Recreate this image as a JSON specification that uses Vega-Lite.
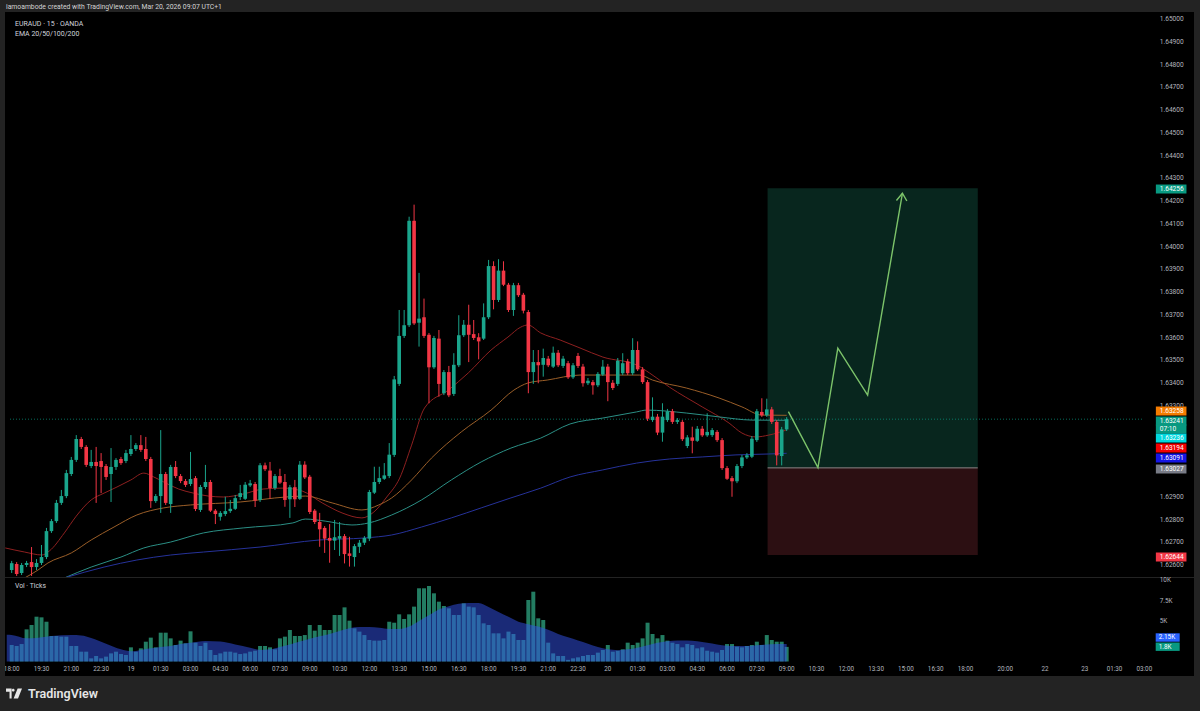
{
"$schema": "https://vega.github.io/schema/vega-lite/v6.json",
"background": "#232323",
"padding": {"left": 5, "right": 6, "top": 0, "bottom": 0},
"spacing": 1,
"bounds": "flush",
"config": {"font": "Roboto", "view": {"stroke": null}},
"resolve": {"scale": {"fill": "independent", "stroke": "independent", "color": "independent"}},
"datasets": {
"candles": [
{"i":0,"o":1.62578,"h":1.62618,"l":1.62565,"c":1.62608,"v":2030},
{"i":1,"o":1.62604,"h":1.62613,"l":1.62552,"c":1.62560,"v":1910},
{"i":2,"o":1.62565,"h":1.62609,"l":1.62556,"c":1.62600,"v":2150},
{"i":3,"o":1.62600,"h":1.62618,"l":1.62591,"c":1.62609,"v":3960},
{"i":4,"o":1.62613,"h":1.62679,"l":1.62552,"c":1.62591,"v":4500},
{"i":5,"o":1.62591,"h":1.62626,"l":1.62578,"c":1.62609,"v":5520},
{"i":6,"o":1.62609,"h":1.62688,"l":1.62600,"c":1.62635,"v":5440},
{"i":7,"o":1.62635,"h":1.62763,"l":1.62626,"c":1.62749,"v":4900},
{"i":8,"o":1.62749,"h":1.62802,"l":1.62741,"c":1.62793,"v":3140},
{"i":9,"o":1.62793,"h":1.62886,"l":1.62785,"c":1.62873,"v":3140},
{"i":10,"o":1.62873,"h":1.62930,"l":1.62864,"c":1.62903,"v":3060},
{"i":11,"o":1.62903,"h":1.63018,"l":1.62894,"c":1.63004,"v":3060},
{"i":12,"o":1.63000,"h":1.63075,"l":1.62991,"c":1.63062,"v":1910},
{"i":13,"o":1.63062,"h":1.63171,"l":1.63053,"c":1.63154,"v":1910},
{"i":14,"o":1.63154,"h":1.63163,"l":1.63110,"c":1.63119,"v":1210},
{"i":15,"o":1.63119,"h":1.63127,"l":1.63031,"c":1.63040,"v":1210},
{"i":16,"o":1.63035,"h":1.63106,"l":1.63026,"c":1.63053,"v":390},
{"i":17,"o":1.63053,"h":1.63119,"l":1.62873,"c":1.63035,"v":680},
{"i":18,"o":1.63057,"h":1.63092,"l":1.62916,"c":1.63031,"v":390},
{"i":19,"o":1.63035,"h":1.63044,"l":1.62974,"c":1.62987,"v":600},
{"i":20,"o":1.63000,"h":1.63114,"l":1.62877,"c":1.63031,"v":1000},
{"i":21,"o":1.63031,"h":1.63070,"l":1.63018,"c":1.63062,"v":1210},
{"i":22,"o":1.63066,"h":1.63075,"l":1.63040,"c":1.63048,"v":920},
{"i":23,"o":1.63057,"h":1.63106,"l":1.63048,"c":1.63092,"v":800},
{"i":24,"o":1.63088,"h":1.63171,"l":1.63079,"c":1.63110,"v":1745},
{"i":25,"o":1.63110,"h":1.63136,"l":1.63101,"c":1.63127,"v":1210},
{"i":26,"o":1.63127,"h":1.63171,"l":1.63097,"c":1.63106,"v":1620},
{"i":27,"o":1.63110,"h":1.63163,"l":1.63057,"c":1.63066,"v":2440},
{"i":28,"o":1.63066,"h":1.63075,"l":1.62851,"c":1.62881,"v":2940},
{"i":29,"o":1.62881,"h":1.62912,"l":1.62873,"c":1.62903,"v":1745},
{"i":30,"o":1.62903,"h":1.63193,"l":1.62829,"c":1.63000,"v":3550},
{"i":31,"o":1.63000,"h":1.63009,"l":1.62864,"c":1.62873,"v":3550},
{"i":32,"o":1.62868,"h":1.63040,"l":1.62829,"c":1.63031,"v":2850},
{"i":33,"o":1.63031,"h":1.63057,"l":1.62982,"c":1.62991,"v":2030},
{"i":34,"o":1.62991,"h":1.63000,"l":1.62960,"c":1.62969,"v":2570},
{"i":35,"o":1.62969,"h":1.62978,"l":1.62943,"c":1.62952,"v":2240},
{"i":36,"o":1.62956,"h":1.63097,"l":1.62947,"c":1.62978,"v":3720},
{"i":37,"o":1.62982,"h":1.62991,"l":1.62837,"c":1.62846,"v":2320},
{"i":38,"o":1.62842,"h":1.62952,"l":1.62833,"c":1.62943,"v":1910},
{"i":39,"o":1.62943,"h":1.63040,"l":1.62934,"c":1.62965,"v":2320},
{"i":40,"o":1.62965,"h":1.62974,"l":1.62833,"c":1.62839,"v":1420},
{"i":41,"o":1.62839,"h":1.62846,"l":1.62780,"c":1.62824,"v":800},
{"i":42,"o":1.62812,"h":1.62837,"l":1.62795,"c":1.62829,"v":1000},
{"i":43,"o":1.62824,"h":1.62900,"l":1.62815,"c":1.62837,"v":1210},
{"i":44,"o":1.62837,"h":1.62886,"l":1.62829,"c":1.62847,"v":1210},
{"i":45,"o":1.62847,"h":1.62908,"l":1.62842,"c":1.62894,"v":1090},
{"i":46,"o":1.62899,"h":1.62952,"l":1.62886,"c":1.62916,"v":920},
{"i":47,"o":1.62891,"h":1.62965,"l":1.62886,"c":1.62953,"v":1000},
{"i":48,"o":1.62950,"h":1.62974,"l":1.62943,"c":1.62959,"v":1210},
{"i":49,"o":1.62956,"h":1.62965,"l":1.62855,"c":1.62883,"v":1330},
{"i":50,"o":1.62886,"h":1.63048,"l":1.62877,"c":1.63038,"v":1910},
{"i":51,"o":1.63038,"h":1.63050,"l":1.63013,"c":1.63021,"v":1910},
{"i":52,"o":1.63015,"h":1.63053,"l":1.62891,"c":1.62938,"v":1745},
{"i":53,"o":1.62938,"h":1.63000,"l":1.62930,"c":1.62991,"v":1500},
{"i":54,"o":1.62991,"h":1.63023,"l":1.62956,"c":1.62962,"v":2850},
{"i":55,"o":1.62965,"h":1.63000,"l":1.62856,"c":1.62886,"v":3060},
{"i":56,"o":1.62889,"h":1.62952,"l":1.62807,"c":1.62942,"v":3880},
{"i":57,"o":1.62942,"h":1.62974,"l":1.62855,"c":1.62889,"v":3140},
{"i":58,"o":1.62891,"h":1.63057,"l":1.62886,"c":1.63041,"v":3140},
{"i":59,"o":1.63041,"h":1.63056,"l":1.62978,"c":1.62985,"v":3260},
{"i":60,"o":1.62988,"h":1.62996,"l":1.62824,"c":1.62833,"v":4500},
{"i":61,"o":1.62839,"h":1.62846,"l":1.62780,"c":1.62789,"v":3800},
{"i":62,"o":1.62789,"h":1.62829,"l":1.62680,"c":1.62757,"v":4500},
{"i":63,"o":1.62763,"h":1.62771,"l":1.62653,"c":1.62716,"v":3880},
{"i":64,"o":1.62719,"h":1.62780,"l":1.62610,"c":1.62707,"v":3880},
{"i":65,"o":1.62707,"h":1.62798,"l":1.62666,"c":1.62722,"v":5730},
{"i":66,"o":1.62716,"h":1.62789,"l":1.62640,"c":1.62727,"v":5730},
{"i":67,"o":1.62727,"h":1.62736,"l":1.62607,"c":1.62648,"v":6670},
{"i":68,"o":1.62651,"h":1.62724,"l":1.62593,"c":1.62640,"v":5030},
{"i":69,"o":1.62635,"h":1.62692,"l":1.62593,"c":1.62683,"v":4090},
{"i":70,"o":1.62680,"h":1.62710,"l":1.62653,"c":1.62698,"v":3680},
{"i":71,"o":1.62698,"h":1.62727,"l":1.62688,"c":1.62719,"v":3260},
{"i":72,"o":1.62716,"h":1.62930,"l":1.62705,"c":1.62921,"v":2650},
{"i":73,"o":1.62918,"h":1.63032,"l":1.62912,"c":1.62965,"v":2570},
{"i":74,"o":1.62965,"h":1.63032,"l":1.62956,"c":1.62982,"v":2570},
{"i":75,"o":1.62979,"h":1.63048,"l":1.62974,"c":1.62994,"v":2650},
{"i":76,"o":1.62991,"h":1.63136,"l":1.62982,"c":1.63085,"v":4900},
{"i":77,"o":1.63084,"h":1.63431,"l":1.63075,"c":1.63416,"v":4780},
{"i":78,"o":1.63396,"h":1.63721,"l":1.63387,"c":1.63607,"v":5810},
{"i":79,"o":1.63607,"h":1.63721,"l":1.63598,"c":1.63654,"v":5240},
{"i":80,"o":1.63654,"h":1.64131,"l":1.63646,"c":1.64113,"v":5810},
{"i":81,"o":1.64113,"h":1.64184,"l":1.63655,"c":1.63662,"v":6760},
{"i":82,"o":1.63665,"h":1.63884,"l":1.63560,"c":1.63683,"v":9020},
{"i":83,"o":1.63689,"h":1.63771,"l":1.63598,"c":1.63607,"v":9020},
{"i":84,"o":1.63612,"h":1.63620,"l":1.63311,"c":1.63469,"v":9300},
{"i":85,"o":1.63469,"h":1.63607,"l":1.63462,"c":1.63598,"v":8400},
{"i":86,"o":1.63595,"h":1.63633,"l":1.63340,"c":1.63396,"v":7370},
{"i":87,"o":1.63355,"h":1.63457,"l":1.63347,"c":1.63448,"v":6840},
{"i":88,"o":1.63448,"h":1.63475,"l":1.63338,"c":1.63346,"v":6550},
{"i":89,"o":1.63352,"h":1.63531,"l":1.63343,"c":1.63480,"v":5730},
{"i":90,"o":1.63478,"h":1.63698,"l":1.63470,"c":1.63610,"v":5730},
{"i":91,"o":1.63610,"h":1.63677,"l":1.63602,"c":1.63656,"v":7170},
{"i":92,"o":1.63656,"h":1.63744,"l":1.63492,"c":1.63612,"v":6760},
{"i":93,"o":1.63615,"h":1.63677,"l":1.63589,"c":1.63598,"v":6670},
{"i":94,"o":1.63601,"h":1.63619,"l":1.63504,"c":1.63583,"v":5730},
{"i":95,"o":1.63595,"h":1.63750,"l":1.63589,"c":1.63689,"v":4700},
{"i":96,"o":1.63689,"h":1.63941,"l":1.63681,"c":1.63914,"v":4500},
{"i":97,"o":1.63914,"h":1.63935,"l":1.63724,"c":1.63765,"v":3470},
{"i":98,"o":1.63765,"h":1.63944,"l":1.63756,"c":1.63894,"v":3470},
{"i":99,"o":1.63894,"h":1.63935,"l":1.63826,"c":1.63832,"v":2850},
{"i":100,"o":1.63832,"h":1.63840,"l":1.63712,"c":1.63721,"v":3680},
{"i":101,"o":1.63721,"h":1.63840,"l":1.63695,"c":1.63830,"v":3390},
{"i":102,"o":1.63830,"h":1.63840,"l":1.63778,"c":1.63786,"v":2650},
{"i":103,"o":1.63788,"h":1.63796,"l":1.63706,"c":1.63718,"v":2650},
{"i":104,"o":1.63712,"h":1.63721,"l":1.63355,"c":1.63448,"v":7580},
{"i":105,"o":1.63448,"h":1.63545,"l":1.63396,"c":1.63492,"v":8600},
{"i":106,"o":1.63492,"h":1.63545,"l":1.63399,"c":1.63478,"v":5320},
{"i":107,"o":1.63480,"h":1.63551,"l":1.63428,"c":1.63510,"v":5110},
{"i":108,"o":1.63507,"h":1.63519,"l":1.63470,"c":1.63478,"v":2320},
{"i":109,"o":1.63472,"h":1.63560,"l":1.63466,"c":1.63533,"v":1000},
{"i":110,"o":1.63533,"h":1.63545,"l":1.63470,"c":1.63478,"v":680},
{"i":111,"o":1.63475,"h":1.63519,"l":1.63466,"c":1.63507,"v":680},
{"i":112,"o":1.63487,"h":1.63497,"l":1.63418,"c":1.63425,"v":200},
{"i":113,"o":1.63425,"h":1.63488,"l":1.63418,"c":1.63478,"v":390},
{"i":114,"o":1.63519,"h":1.63532,"l":1.63466,"c":1.63475,"v":510},
{"i":115,"o":1.63472,"h":1.63484,"l":1.63384,"c":1.63399,"v":680},
{"i":116,"o":1.63399,"h":1.63422,"l":1.63391,"c":1.63410,"v":800},
{"i":117,"o":1.63404,"h":1.63413,"l":1.63349,"c":1.63390,"v":800},
{"i":118,"o":1.63390,"h":1.63448,"l":1.63382,"c":1.63440,"v":1090},
{"i":119,"o":1.63437,"h":1.63501,"l":1.63431,"c":1.63472,"v":1420},
{"i":120,"o":1.63472,"h":1.63484,"l":1.63320,"c":1.63404,"v":2030},
{"i":121,"o":1.63401,"h":1.63413,"l":1.63369,"c":1.63378,"v":1210},
{"i":122,"o":1.63396,"h":1.63510,"l":1.63387,"c":1.63498,"v":1330},
{"i":123,"o":1.63443,"h":1.63531,"l":1.63435,"c":1.63487,"v":1500},
{"i":124,"o":1.63495,"h":1.63506,"l":1.63435,"c":1.63443,"v":2320},
{"i":125,"o":1.63443,"h":1.63597,"l":1.63435,"c":1.63545,"v":2030},
{"i":126,"o":1.63545,"h":1.63583,"l":1.63453,"c":1.63460,"v":2320},
{"i":127,"o":1.63460,"h":1.63470,"l":1.63396,"c":1.63404,"v":2850},
{"i":128,"o":1.63404,"h":1.63413,"l":1.63233,"c":1.63243,"v":4780},
{"i":129,"o":1.63237,"h":1.63337,"l":1.63229,"c":1.63252,"v":3390},
{"i":130,"o":1.63252,"h":1.63264,"l":1.63171,"c":1.63182,"v":2850},
{"i":131,"o":1.63182,"h":1.63311,"l":1.63142,"c":1.63252,"v":3260},
{"i":132,"o":1.63237,"h":1.63286,"l":1.63229,"c":1.63276,"v":2570},
{"i":133,"o":1.63276,"h":1.63286,"l":1.63220,"c":1.63229,"v":2320},
{"i":134,"o":1.63229,"h":1.63246,"l":1.63220,"c":1.63237,"v":2150},
{"i":135,"o":1.63229,"h":1.63237,"l":1.63145,"c":1.63153,"v":1745},
{"i":136,"o":1.63123,"h":1.63171,"l":1.63114,"c":1.63161,"v":2150},
{"i":137,"o":1.63161,"h":1.63208,"l":1.63091,"c":1.63146,"v":2030},
{"i":138,"o":1.63146,"h":1.63211,"l":1.63141,"c":1.63199,"v":1620},
{"i":139,"o":1.63199,"h":1.63211,"l":1.63163,"c":1.63170,"v":1745},
{"i":140,"o":1.63170,"h":1.63267,"l":1.63163,"c":1.63185,"v":1330},
{"i":141,"o":1.63171,"h":1.63202,"l":1.63163,"c":1.63193,"v":1210},
{"i":142,"o":1.63185,"h":1.63193,"l":1.63141,"c":1.63149,"v":1090},
{"i":143,"o":1.63149,"h":1.63158,"l":1.63018,"c":1.63026,"v":1420},
{"i":144,"o":1.63026,"h":1.63035,"l":1.62974,"c":1.62979,"v":2150},
{"i":145,"o":1.62982,"h":1.62991,"l":1.62900,"c":1.62968,"v":2150},
{"i":146,"o":1.62968,"h":1.63044,"l":1.62960,"c":1.63035,"v":1830},
{"i":147,"o":1.63035,"h":1.63084,"l":1.63026,"c":1.63073,"v":1745},
{"i":148,"o":1.63073,"h":1.63092,"l":1.63066,"c":1.63082,"v":1910},
{"i":149,"o":1.63076,"h":1.63167,"l":1.63070,"c":1.63155,"v":2030},
{"i":150,"o":1.63149,"h":1.63286,"l":1.63141,"c":1.63276,"v":2440},
{"i":151,"o":1.63273,"h":1.63333,"l":1.63251,"c":1.63258,"v":2030},
{"i":152,"o":1.63258,"h":1.63331,"l":1.63251,"c":1.63284,"v":3260},
{"i":153,"o":1.63284,"h":1.63295,"l":1.63220,"c":1.63229,"v":2650},
{"i":154,"o":1.63229,"h":1.63237,"l":1.63038,"c":1.63082,"v":2440},
{"i":155,"o":1.63079,"h":1.63207,"l":1.63038,"c":1.63196,"v":2440},
{"i":156,"o":1.63196,"h":1.63250,"l":1.63189,"c":1.63241,"v":1800}
],
"ema": [
{"ema":"EMA20","i":-1.3,"p":1.62675},{"ema":"EMA20","i":2.6,"p":1.62657},{"ema":"EMA20","i":6.1,"p":1.62644},{"ema":"EMA20","i":7.6,"p":1.62662},{"ema":"EMA20","i":10.6,"p":1.62741},{"ema":"EMA20","i":13.0,"p":1.62815},{"ema":"EMA20","i":16.0,"p":1.62886},{"ema":"EMA20","i":18.6,"p":1.62916},{"ema":"EMA20","i":21.2,"p":1.62943},{"ema":"EMA20","i":24.0,"p":1.62974},{"ema":"EMA20","i":26.6,"p":1.63004},{"ema":"EMA20","i":28.6,"p":1.62987},{"ema":"EMA20","i":30.6,"p":1.62965},{"ema":"EMA20","i":33.6,"p":1.62934},{"ema":"EMA20","i":36.6,"p":1.62916},{"ema":"EMA20","i":39.6,"p":1.62903},{"ema":"EMA20","i":42.6,"p":1.62899},{"ema":"EMA20","i":46.6,"p":1.62912},{"ema":"EMA20","i":50.6,"p":1.62934},{"ema":"EMA20","i":54.6,"p":1.62938},{"ema":"EMA20","i":58.5,"p":1.62925},{"ema":"EMA20","i":62.5,"p":1.62873},{"ema":"EMA20","i":66.5,"p":1.62829},{"ema":"EMA20","i":70.5,"p":1.62807},{"ema":"EMA20","i":72.9,"p":1.62833},{"ema":"EMA20","i":75.5,"p":1.62899},{"ema":"EMA20","i":78.1,"p":1.62982},{"ema":"EMA20","i":80.5,"p":1.63127},{"ema":"EMA20","i":83.1,"p":1.63290},{"ema":"EMA20","i":87.9,"p":1.63369},{"ema":"EMA20","i":91.9,"p":1.63444},{"ema":"EMA20","i":96.5,"p":1.63545},{"ema":"EMA20","i":99.9,"p":1.63602},{"ema":"EMA20","i":102.5,"p":1.63646},{"ema":"EMA20","i":103.9,"p":1.63655},{"ema":"EMA20","i":106.5,"p":1.63620},{"ema":"EMA20","i":110.4,"p":1.63589},{"ema":"EMA20","i":114.4,"p":1.63554},{"ema":"EMA20","i":119.0,"p":1.63514},{"ema":"EMA20","i":125.8,"p":1.63479},{"ema":"EMA20","i":128.4,"p":1.63444},{"ema":"EMA20","i":132.4,"p":1.63382},{"ema":"EMA20","i":139.0,"p":1.63295},{"ema":"EMA20","i":144.4,"p":1.63224},{"ema":"EMA20","i":147.0,"p":1.63180},{"ema":"EMA20","i":149.8,"p":1.63163},{"ema":"EMA20","i":152.4,"p":1.63171},{"ema":"EMA20","i":156,"p":1.63194},
{"ema":"EMA50","i":2.6,"p":1.62543},{"ema":"EMA50","i":5.3,"p":1.62578},{"ema":"EMA50","i":7.3,"p":1.62609},{"ema":"EMA50","i":12.0,"p":1.62653},{"ema":"EMA50","i":16.0,"p":1.62710},{"ema":"EMA50","i":20.6,"p":1.62767},{"ema":"EMA50","i":25.2,"p":1.62820},{"ema":"EMA50","i":30.6,"p":1.62851},{"ema":"EMA50","i":36.0,"p":1.62864},{"ema":"EMA50","i":46.0,"p":1.62877},{"ema":"EMA50","i":55.2,"p":1.62899},{"ema":"EMA50","i":59.1,"p":1.62903},{"ema":"EMA50","i":64.5,"p":1.62873},{"ema":"EMA50","i":70.5,"p":1.62842},{"ema":"EMA50","i":73.9,"p":1.62864},{"ema":"EMA50","i":76.5,"p":1.62895},{"ema":"EMA50","i":80.5,"p":1.62974},{"ema":"EMA50","i":84.5,"p":1.63070},{"ema":"EMA50","i":90.5,"p":1.63185},{"ema":"EMA50","i":96.5,"p":1.63281},{"ema":"EMA50","i":101.1,"p":1.63369},{"ema":"EMA50","i":103.9,"p":1.63400},{"ema":"EMA50","i":107.8,"p":1.63413},{"ema":"EMA50","i":114.4,"p":1.63435},{"ema":"EMA50","i":126.4,"p":1.63435},{"ema":"EMA50","i":129.0,"p":1.63413},{"ema":"EMA50","i":135.8,"p":1.63378},{"ema":"EMA50","i":142.4,"p":1.63334},{"ema":"EMA50","i":147.0,"p":1.63295},{"ema":"EMA50","i":151.0,"p":1.63259},{"ema":"EMA50","i":156,"p":1.63258},
{"ema":"EMA100","i":10.6,"p":1.62543},{"ema":"EMA100","i":16.0,"p":1.62591},{"ema":"EMA100","i":22.0,"p":1.62635},{"ema":"EMA100","i":26.6,"p":1.62675},{"ema":"EMA100","i":32.0,"p":1.62701},{"ema":"EMA100","i":38.6,"p":1.62741},{"ema":"EMA100","i":46.6,"p":1.62763},{"ema":"EMA100","i":56.6,"p":1.62785},{"ema":"EMA100","i":59.1,"p":1.62802},{"ema":"EMA100","i":63.1,"p":1.62793},{"ema":"EMA100","i":68.5,"p":1.62776},{"ema":"EMA100","i":71.9,"p":1.62785},{"ema":"EMA100","i":76.5,"p":1.62820},{"ema":"EMA100","i":82.5,"p":1.62886},{"ema":"EMA100","i":88.5,"p":1.62974},{"ema":"EMA100","i":94.5,"p":1.63053},{"ema":"EMA100","i":100.5,"p":1.63114},{"ema":"EMA100","i":106.5,"p":1.63158},{"ema":"EMA100","i":112.4,"p":1.63220},{"ema":"EMA100","i":119.0,"p":1.63246},{"ema":"EMA100","i":125.8,"p":1.63273},{"ema":"EMA100","i":127.8,"p":1.63281},{"ema":"EMA100","i":135.8,"p":1.63268},{"ema":"EMA100","i":142.4,"p":1.63251},{"ema":"EMA100","i":149.0,"p":1.63237},{"ema":"EMA100","i":156,"p":1.63236},
{"ema":"EMA200","i":10.6,"p":1.62543},{"ema":"EMA200","i":18.6,"p":1.62591},{"ema":"EMA200","i":25.2,"p":1.62622},{"ema":"EMA200","i":32.0,"p":1.62644},{"ema":"EMA200","i":38.6,"p":1.62657},{"ema":"EMA200","i":50.0,"p":1.62679},{"ema":"EMA200","i":61.9,"p":1.62710},{"ema":"EMA200","i":71.1,"p":1.62719},{"ema":"EMA200","i":76.5,"p":1.62732},{"ema":"EMA200","i":82.5,"p":1.62767},{"ema":"EMA200","i":88.5,"p":1.62807},{"ema":"EMA200","i":94.5,"p":1.62851},{"ema":"EMA200","i":100.5,"p":1.62895},{"ema":"EMA200","i":106.5,"p":1.62938},{"ema":"EMA200","i":112.4,"p":1.62987},{"ema":"EMA200","i":119.0,"p":1.63018},{"ema":"EMA200","i":125.8,"p":1.63048},{"ema":"EMA200","i":132.4,"p":1.63066},{"ema":"EMA200","i":139.0,"p":1.63075},{"ema":"EMA200","i":145.8,"p":1.63084},{"ema":"EMA200","i":152.4,"p":1.63088},{"ema":"EMA200","i":156,"p":1.63091}
],
"ma": [
{"i":-1,"ma":3300},{"i":0,"ma":3260},{"i":3,"ma":2850},{"i":5,"ma":2900},{"i":8,"ma":3150},{"i":12,"ma":3250},{"i":14,"ma":3200},{"i":16,"ma":2900},{"i":19,"ma":2200},{"i":22,"ma":1500},{"i":24,"ma":1250},{"i":26,"ma":1420},{"i":28,"ma":1620},{"i":30,"ma":1800},{"i":32,"ma":1910},{"i":34,"ma":2150},{"i":36,"ma":2300},{"i":39,"ma":2520},{"i":42,"ma":2450},{"i":45,"ma":2100},{"i":48,"ma":1700},{"i":50,"ma":1420},{"i":52,"ma":1500},{"i":54,"ma":1800},{"i":56,"ma":2100},{"i":58,"ma":2450},{"i":60,"ma":2800},{"i":62,"ma":3100},{"i":64,"ma":3400},{"i":66,"ma":3750},{"i":68,"ma":4100},{"i":70,"ma":4250},{"i":72,"ma":4250},{"i":74,"ma":4150},{"i":76,"ma":4000},{"i":78,"ma":4000},{"i":80,"ma":4300},{"i":82,"ma":5000},{"i":84,"ma":5700},{"i":86,"ma":6400},{"i":88,"ma":6800},{"i":90,"ma":7100},{"i":92,"ma":7200},{"i":94,"ma":7200},{"i":96,"ma":6700},{"i":98,"ma":6100},{"i":100,"ma":5500},{"i":102,"ma":4900},{"i":104,"ma":4600},{"i":106,"ma":4300},{"i":108,"ma":3900},{"i":110,"ma":3400},{"i":112,"ma":3000},{"i":114,"ma":2600},{"i":116,"ma":2200},{"i":118,"ma":1800},{"i":120,"ma":1500},{"i":122,"ma":1400},{"i":124,"ma":1500},{"i":126,"ma":1700},{"i":128,"ma":2000},{"i":130,"ma":2300},{"i":132,"ma":2500},{"i":134,"ma":2600},{"i":136,"ma":2600},{"i":138,"ma":2500},{"i":140,"ma":2300},{"i":142,"ma":2100},{"i":144,"ma":1950},{"i":146,"ma":1900},{"i":148,"ma":1900},{"i":150,"ma":2000},{"i":152,"ma":2100},{"i":154,"ma":2150},{"i":156,"ma":2150}
],
"zones": [
{"zone":"profit","t0":152.16,"t1":194.47,"p0":1.63027,"p1":1.64256},
{"zone":"loss","t0":152.16,"t1":194.47,"p0":1.62644,"p1":1.63027}
],
"projection": [
{"path":"move","k":0,"t":156.35,"p":1.63274},{"path":"move","k":1,"t":162.3,"p":1.63028},{"path":"move","k":2,"t":166.3,"p":1.63553},{"path":"move","k":3,"t":172.3,"p":1.63347},{"path":"move","k":4,"t":179.3,"p":1.64234},
{"path":"head","k":0,"t":178.1,"p":1.64202},{"path":"head","k":1,"t":179.3,"p":1.64234},{"path":"head","k":2,"t":180.2,"p":1.64200}
],
"priceTicks": [
{"p":1.626},{"p":1.627},{"p":1.628},{"p":1.629},{"p":1.633},{"p":1.634},{"p":1.635},{"p":1.636},{"p":1.637},{"p":1.638},{"p":1.639},{"p":1.640},{"p":1.641},{"p":1.642},{"p":1.643},{"p":1.644},{"p":1.645},{"p":1.646},{"p":1.647},{"p":1.648},{"p":1.649},{"p":1.650}
],
"timeTicks": [
{"i":0,"t":"18:00"},{"i":6,"t":"19:30"},{"i":12,"t":"21:00"},{"i":18,"t":"22:30"},{"i":24,"t":"19"},{"i":30,"t":"01:30"},{"i":36,"t":"03:00"},{"i":42,"t":"04:30"},{"i":48,"t":"06:00"},{"i":54,"t":"07:30"},{"i":60,"t":"09:00"},{"i":66,"t":"10:30"},{"i":72,"t":"12:00"},{"i":78,"t":"13:30"},{"i":84,"t":"15:00"},{"i":90,"t":"16:30"},{"i":96,"t":"18:00"},{"i":102,"t":"19:30"},{"i":108,"t":"21:00"},{"i":114,"t":"22:30"},{"i":120,"t":"20"},{"i":126,"t":"01:30"},{"i":132,"t":"03:00"},{"i":138,"t":"04:30"},{"i":144,"t":"06:00"},{"i":150,"t":"07:30"},{"i":156,"t":"09:00"},{"i":162,"t":"10:30"},{"i":168,"t":"12:00"},{"i":174,"t":"13:30"},{"i":180,"t":"15:00"},{"i":186,"t":"16:30"},{"i":192,"t":"18:00"},{"i":200,"t":"20:00"},{"i":208,"t":"22"},{"i":216,"t":"23"},{"i":222,"t":"01:30"},{"i":228,"t":"03:00"}
],
"volTicks": [
{"v":5000,"t":"5K"},{"v":7500,"t":"7.5K"},{"v":10000,"t":"10K"}
],
"badges": [
{"kind":"target","label":"1.64256","level":1.642527},
{"kind":"ema50","label":"1.63258","level":1.632769},
{"kind":"last","label":"1.63241","level":1.632330},
{"kind":"last","label":"07:10","level":1.631978},
{"kind":"ema100","label":"1.63236","level":1.631582},
{"kind":"ema20","label":"1.63194","level":1.631143},
{"kind":"ema200","label":"1.63091","level":1.630703},
{"kind":"entry","label":"1.63027","level":1.630220},
{"kind":"stop","label":"1.62644","level":1.626352}
],
"vbadges": [
{"kind":"ma","label":"2.15K","level":2957},
{"kind":"vol","label":"1.8K","level":1823}
]
},
"vconcat": [
{
"width": 1189, "height": 11,
"data": {"values": [{"t": "iamoambode created with TradingView.com, Mar 20, 2026 09:07 UTC+1"}]},
"mark": {"type": "text", "align": "left", "baseline": "middle", "fontSize": 6.8, "color": "#d4d4d4"},
"encoding": {
"x": {"datum": -0.14, "type": "quantitative", "scale": {"domain": [-0.34, 236.99], "nice": false, "zero": false}, "axis": null},
"y": {"datum": 4, "type": "quantitative", "scale": {"domain": [0, 11], "nice": false, "zero": false}, "axis": null},
"text": {"field": "t"}
}
},
{
"width": 1189, "height": 565,
"view": {"fill": "#000000", "stroke": null},
"layer": [
{
"data": {"name": "zones"},
"mark": {"type": "rect"},
"encoding": {
"x": {"field": "t0", "type": "quantitative", "scale": {"domain": [-0.34, 236.99], "nice": false, "zero": false}, "axis": null},
"x2": {"field": "t1"},
"y": {"field": "p0", "type": "quantitative", "scale": {"domain": [1.625473, 1.650308], "nice": false, "zero": false}, "axis": null},
"y2": {"field": "p1"},
"color": {"condition": {"test": "datum.zone == 'profit'", "value": "#08261e"}, "value": "#2c0f12"}
}
},
{
"data": {"name": "priceTicks"},
"mark": {"type": "text", "align": "left", "baseline": "middle", "fontSize": 6.6, "color": "#b2b5be"},
"encoding": {
"x": {"datum": 231.1, "type": "quantitative", "axis": null},
"y": {"field": "p", "type": "quantitative", "axis": null},
"text": {"field": "p", "type": "quantitative", "format": ".5f"}
}
},
{
"data": {"values": [{"p": 1.63241}]},
"mark": {"type": "rule", "strokeDash": [1, 2], "strokeWidth": 1, "color": "#089981", "opacity": 0.7},
"encoding": {
"x": {"datum": -0.34, "type": "quantitative", "axis": null},
"x2": {"datum": 227.8},
"y": {"field": "p", "type": "quantitative", "axis": null}
}
},
{
"data": {"name": "ema"},
"mark": {"type": "line", "strokeWidth": 1, "interpolate": "monotone", "clip": true},
"encoding": {
"x": {"field": "i", "type": "quantitative", "axis": null},
"y": {"field": "p", "type": "quantitative", "axis": null},
"stroke": {"field": "ema", "type": "nominal", "scale": {"domain": ["EMA20", "EMA50", "EMA100", "EMA200"], "range": ["#8e2020", "#9a5e28", "#2b8f85", "#26329a"]}, "legend": null}
}
},
{
"data": {"name": "candles"},
"mark": {"type": "rule", "strokeWidth": 1},
"encoding": {
"x": {"field": "i", "type": "quantitative", "axis": null},
"y": {"field": "l", "type": "quantitative", "axis": null},
"y2": {"field": "h"},
"color": {"condition": {"test": "datum.c >= datum.o", "value": "#1aa58c"}, "value": "#f23645"}
}
},
{
"data": {"name": "candles"},
"mark": {"type": "bar", "width": 3.6},
"encoding": {
"x": {"field": "i", "type": "quantitative", "axis": null},
"y": {"field": "o", "type": "quantitative", "axis": null},
"y2": {"field": "c"},
"color": {"condition": {"test": "datum.c >= datum.o", "value": "#1aa58c"}, "value": "#f23645"}
}
},
{
"data": {"values": [{"p": 1.63027}]},
"mark": {"type": "rule", "strokeWidth": 1, "color": "#8a8a8a"},
"encoding": {
"x": {"datum": 152.16, "type": "quantitative", "axis": null},
"x2": {"datum": 194.47},
"y": {"field": "p", "type": "quantitative", "axis": null}
}
},
{
"data": {"name": "projection"},
"mark": {"type": "line", "strokeWidth": 1.4, "color": "#7cc36a"},
"encoding": {
"x": {"field": "t", "type": "quantitative", "axis": null},
"y": {"field": "p", "type": "quantitative", "axis": null},
"detail": {"field": "path"},
"order": {"field": "k"}
}
},
{
"data": {"values": [{"t": "EURAUD · 15 · OANDA"}, {"t": "EMA 20/50/100/200"}]},
"transform": [{"filter": "datum.t == 'EURAUD · 15 · OANDA'"}],
"mark": {"type": "text", "align": "left", "baseline": "middle", "fontSize": 7, "color": "#d1d4dc"},
"encoding": {
"x": {"datum": 0.66, "type": "quantitative", "axis": null},
"y": {"datum": 1.64979, "type": "quantitative", "axis": null},
"text": {"field": "t"}
}
},
{
"data": {"values": [{"t": "EURAUD · 15 · OANDA"}, {"t": "EMA 20/50/100/200"}]},
"transform": [{"filter": "datum.t == 'EMA 20/50/100/200'"}],
"mark": {"type": "text", "align": "left", "baseline": "middle", "fontSize": 7, "color": "#d1d4dc"},
"encoding": {
"x": {"datum": 0.66, "type": "quantitative", "axis": null},
"y": {"datum": 1.64935, "type": "quantitative", "axis": null},
"text": {"field": "t"}
}
},
{
"data": {"name": "badges"},
"mark": {"type": "point", "filled": true, "opacity": 1, "strokeWidth": 0, "size": 936, "shape": "M-1,-0.294L1,-0.294L1,0.294L-1,0.294Z"},
"encoding": {
"x": {"datum": 233.4, "type": "quantitative", "axis": null},
"y": {"field": "level", "type": "quantitative", "axis": null},
"fill": {"field": "kind", "type": "nominal", "scale": {"domain": ["target", "ema50", "last", "ema100", "ema20", "ema200", "entry", "stop"], "range": ["#089981", "#f57c00", "#089981", "#00d8de", "#f20000", "#1515e6", "#787b86", "#f23645"]}, "legend": null}
}
},
{
"data": {"name": "badges"},
"mark": {"type": "text", "align": "left", "baseline": "middle", "fontSize": 6.6, "color": "#ffffff"},
"encoding": {
"x": {"datum": 231.1, "type": "quantitative", "axis": null},
"y": {"field": "level", "type": "quantitative", "axis": null},
"text": {"field": "label"}
}
}
]
},
{
"width": 1189, "height": 98,
"view": {"fill": "#000000", "stroke": null},
"layer": [
{
"data": {"name": "candles"},
"mark": {"type": "bar", "width": 4, "color": "#237d62"},
"encoding": {
"x": {"field": "i", "type": "quantitative", "scale": {"domain": [-0.34, 236.99], "nice": false, "zero": false}, "axis": null},
"y": {"field": "v", "type": "quantitative", "scale": {"domain": [-1786, 10287], "nice": false, "zero": false}, "axis": null}
}
},
{
"data": {"name": "ma"},
"mark": {"type": "area", "color": "#3354ee", "opacity": 0.5, "interpolate": "monotone", "clip": true},
"encoding": {
"x": {"field": "i", "type": "quantitative", "axis": null},
"y": {"field": "ma", "type": "quantitative", "axis": null}
}
},
{
"data": {"name": "timeTicks"},
"mark": {"type": "text", "align": "center", "baseline": "middle", "fontSize": 6.3, "color": "#b2b5be", "clip": true},
"encoding": {
"x": {"field": "i", "type": "quantitative", "axis": null},
"y": {"datum": -924, "type": "quantitative", "axis": null},
"text": {"field": "t"}
}
},
{
"data": {"name": "volTicks"},
"mark": {"type": "text", "align": "left", "baseline": "middle", "fontSize": 6.4, "color": "#b2b5be"},
"encoding": {
"x": {"datum": 231.1, "type": "quantitative", "axis": null},
"y": {"field": "v", "type": "quantitative", "axis": null},
"text": {"field": "t"}
}
},
{
"data": {"values": [{"t": "Vol · Ticks"}]},
"mark": {"type": "text", "align": "left", "baseline": "middle", "fontSize": 6.8, "color": "#d1d4dc"},
"encoding": {
"x": {"datum": 0.66, "type": "quantitative", "axis": null},
"y": {"datum": 9363, "type": "quantitative", "axis": null},
"text": {"field": "t"}
}
},
{
"data": {"name": "vbadges"},
"mark": {"type": "point", "filled": true, "opacity": 1, "strokeWidth": 0, "size": 576, "shape": "M-1,-0.35L1,-0.35L1,0.35L-1,0.35Z"},
"encoding": {
"x": {"datum": 232.7, "type": "quantitative", "axis": null},
"y": {"field": "level", "type": "quantitative", "axis": null},
"color": {"condition": {"test": "datum.kind == 'ma'", "value": "#2962ff"}, "value": "#089981"}
}
},
{
"data": {"name": "vbadges"},
"mark": {"type": "text", "align": "left", "baseline": "middle", "fontSize": 6.4, "color": "#ffffff"},
"encoding": {
"x": {"datum": 230.9, "type": "quantitative", "axis": null},
"y": {"field": "level", "type": "quantitative", "axis": null},
"text": {"field": "label"}
}
}
]
},
{
"width": 1189, "height": 34,
"layer": [
{
"data": {"values": [{"name": "TradingView logo"}]},
"mark": {"type": "point", "filled": true, "opacity": 1, "strokeWidth": 0, "size": 256, "color": "#e6e6e6",
"shape": "M-1,-0.62L-0.3,-0.62L-0.3,0.62L-0.56,0.62L-0.56,-0.22L-1,-0.22Z M-0.27,-0.42A0.17,0.17 0 1 0 0.07,-0.42A0.17,0.17 0 1 0 -0.27,-0.42Z M0.45,-0.62L1,-0.62L0.5,0.62L-0.05,0.62Z"},
"encoding": {
"x": {"datum": 1.46, "type": "quantitative", "scale": {"domain": [-0.34, 236.99], "nice": false, "zero": false}, "axis": null},
"y": {"datum": 17.5, "type": "quantitative", "scale": {"domain": [0, 34], "nice": false, "zero": false}, "axis": null}
}
},
{
"data": {"values": [{"t": "TradingView"}]},
"mark": {"type": "text", "align": "left", "baseline": "middle", "fontSize": 12.5, "fontWeight": 600, "color": "#e6e6e6"},
"encoding": {
"x": {"datum": 4.25, "type": "quantitative", "axis": null},
"y": {"datum": 17, "type": "quantitative", "axis": null},
"text": {"field": "t"}
}
}
]
}
]
}
